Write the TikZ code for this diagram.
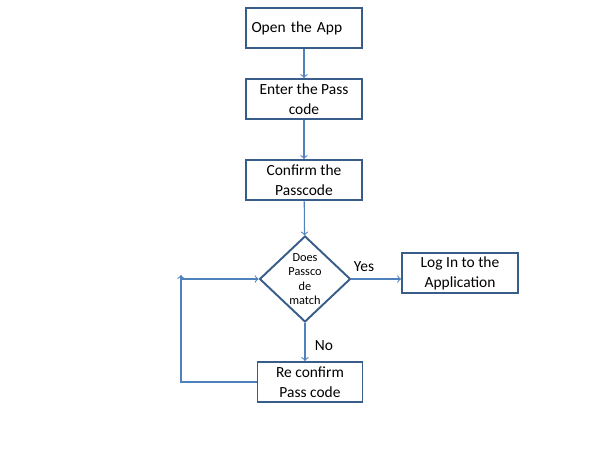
\documentclass[tikz,border=0pt]{standalone}
\usepackage{fontspec}
\setmainfont{Carlito}
\usetikzlibrary{arrows,shapes.geometric}
\definecolor{boxblue}{RGB}{56,93,138}
\definecolor{linkblue}{RGB}{79,129,189}
\tikzset{
	stepbox/.style={draw=boxblue,line width=1.1pt,rectangle,align=center,
		minimum width=2.32cm,minimum height=0.8cm,inner sep=1pt,
		font=\fontsize{8.8}{11.3}\selectfont},
	ask/.style={draw=boxblue,line width=1.1pt,diamond,align=center,
		minimum width=1.82cm,minimum height=1.72cm,inner sep=0pt,
		font=\fontsize{7}{8.1}\selectfont},
	link/.style={draw=linkblue,line width=0.6pt,->},
	tag/.style={font=\fontsize{8.8}{11.3}\selectfont}
}

\begin{document}
\begin{tikzpicture}[x=0.02cm,y=-0.02cm]
	\useasboundingbox (0,0) rectangle (603,449);
	\node[stepbox,text width=2.1cm,align=left] (open) at (304,28) {Open the App};
	\node[stepbox] (enter) at (304,99) {Enter the Pass\\code};
	\node[stepbox] (confirm) at (304,180) {Confirm the\\Passcode};
	\node[ask] (match) at (305,279) {Does\\Passco\\de\\match};
	\node[stepbox] (login) at (460,273) {Log In to the\\Application};
	\node[stepbox,minimum width=2.1cm] (again) at (310,382) {Re confirm\\Pass code};
	\coordinate (back) at (181,275);
	\draw[link] (open) -- (enter);
	\draw[link] (enter) -- (confirm);
	\draw[link] (confirm) -- (match);
	\draw[link] (match.east) -- (match.east -| login.west);
	\draw[link] (match.south) -- (match.south |- again.north);
	\draw[link] (again.west) -| (back);
	\draw[link] (back |- match.west) -- (match.west);
	\node[tag] (yes) at (364,267) {Yes};
	\node[tag] (no) at (324,346) {No};
\end{tikzpicture}
\end{document}
